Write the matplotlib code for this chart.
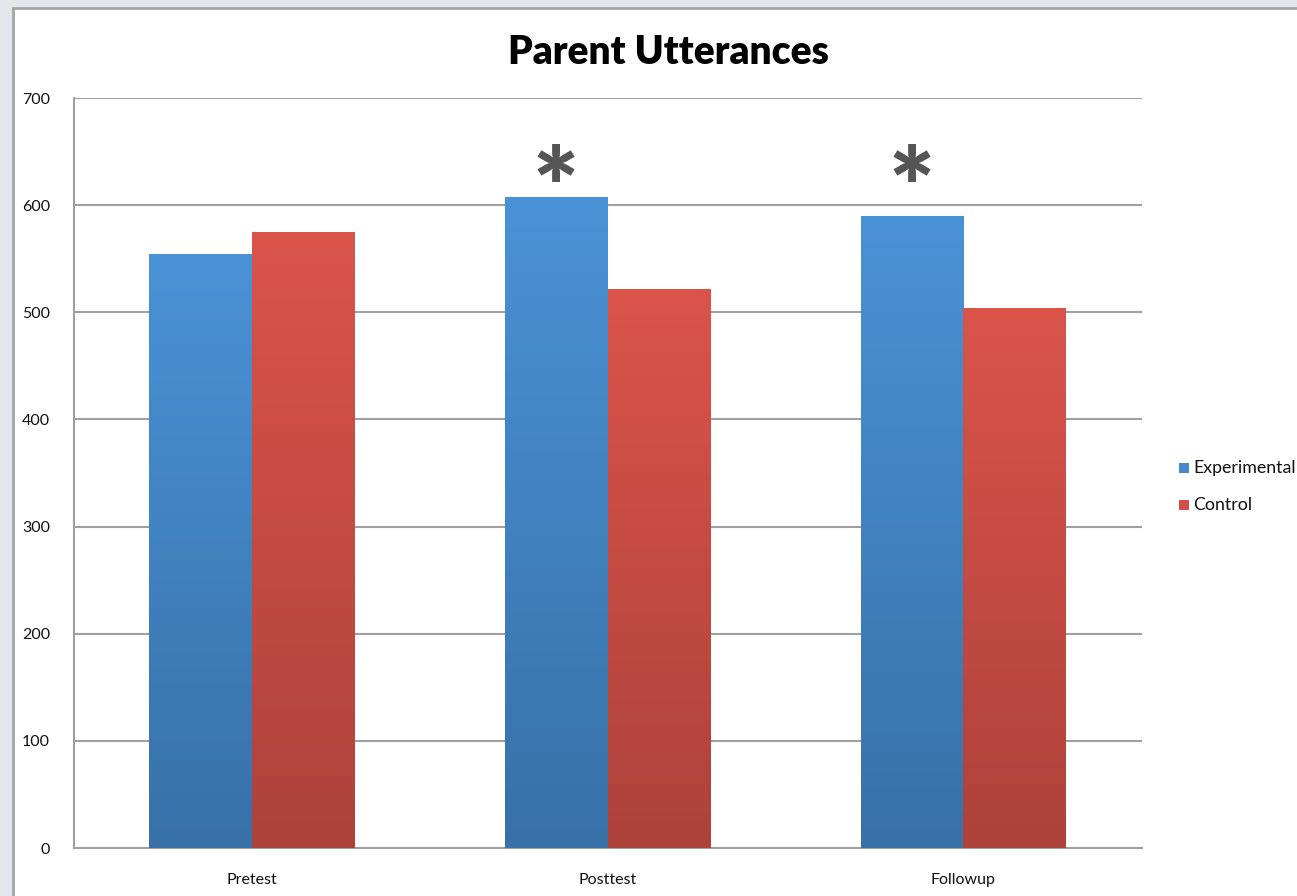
#!/usr/bin/env python3
"""Grouped bar chart of parent utterances per test phase."""

import matplotlib

matplotlib.use("Agg")
import matplotlib.pyplot as plt
import numpy as np
from matplotlib.colors import LinearSegmentedColormap
from matplotlib.patches import Rectangle

phases = ["Pretest", "Posttest", "Followup"]
experimental = [554, 608, 590]
control = [575, 522, 504]
significant = [False, True, True]

plt.rcParams["font.family"] = ["Lato", "DejaVu Sans"]

fig = plt.figure(figsize=(12.97, 8.96), dpi=100, facecolor="#e3e7eb")
# white slide panel with a thin grey border
fig.patches.append(Rectangle((13 / 1297, -0.1), 1.2, (888 / 896) + 0.1,
                             transform=fig.transFigure, facecolor="white",
                             edgecolor="#a4a4a4", linewidth=2, zorder=-10))

ax = fig.add_axes([73.5 / 1297, 48 / 896, 1068 / 1297, 750 / 896])
ax.set_facecolor("none")

blue = LinearSegmentedColormap.from_list("b", ["#3871a8", "#4a92d6"])
red = LinearSegmentedColormap.from_list("r", ["#ad423b", "#da544a"])
grad = np.linspace(0, 1, 256).reshape(-1, 1)

x = np.arange(len(phases))
w = 0.289


def gradient_bars(xs, heights, cmap):
    bars = ax.bar(xs, heights, w, color=cmap(0.5), linewidth=0, zorder=2)
    for b in bars:
        im = ax.imshow(grad, cmap=cmap, origin="lower", aspect="auto",
                       extent=(b.get_x(), b.get_x() + b.get_width(), 0, b.get_height()),
                       zorder=3)
        im.set_clip_path(b)
    return bars


gradient_bars(x - w / 2, experimental, blue)
gradient_bars(x + w / 2, control, red)

for xi, v, sig in zip(x, experimental, significant):
    if sig:
        ax.text(xi - w / 2, 581, "*", ha="center", va="baseline",
                fontsize=78, fontweight="heavy", color="#555555")

ax.set_xlim(-0.5, 2.5)
ax.set_ylim(0, 700)
ax.set_yticks(range(0, 701, 100))
ax.set_xticks(x)
ax.set_xticklabels(phases)
ax.tick_params(length=0, labelsize=11.5, colors="#111111")
ax.tick_params(axis="y", pad=17)
ax.tick_params(axis="x", pad=18)
ax.grid(axis="y", color="#a0a0a0", linewidth=1.5, zorder=1)
ax.set_axisbelow(True)
for side in ("top", "right"):
    ax.spines[side].set_visible(False)
for side in ("left", "bottom"):
    ax.spines[side].set_color("#a0a0a0")
    ax.spines[side].set_linewidth(1.5)

fig.text(668 / 1297, 1 - 52 / 896, "Parent Utterances", ha="center", va="center",
         fontsize=28, fontweight="heavy", color="black")

# legend
for i, (label, c) in enumerate([("Experimental", "#4489cb"), ("Control", "#d14f46")]):
    yy = 1 - (468 + 37 * i) / 896
    fig.patches.append(Rectangle((1179 / 1297, yy - 5 / 896), 10 / 1297, 10 / 896,
                                 transform=fig.transFigure, facecolor=c,
                                 edgecolor="none"))
    fig.text(1193 / 1297, yy, label, ha="left", va="center", fontsize=12.8,
             color="#111111")

fig.savefig("out.png", dpi=100, facecolor=fig.get_facecolor())
